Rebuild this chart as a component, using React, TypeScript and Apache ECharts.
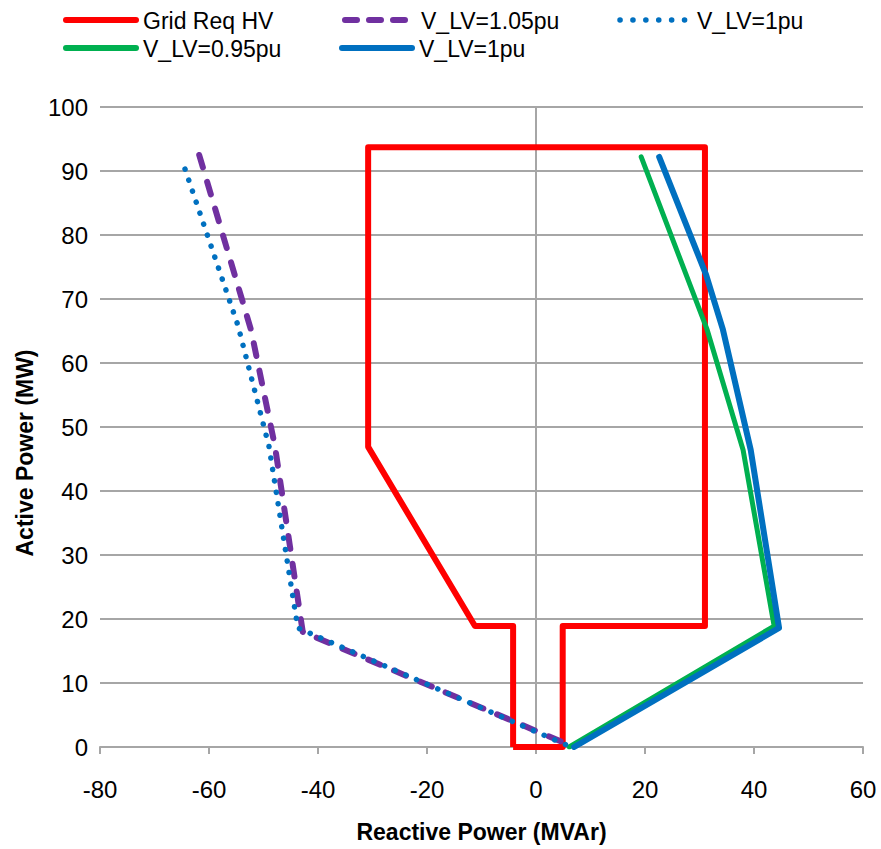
import React, { useEffect, useRef } from "react";
import * as echarts from "echarts";

// Grid requirement polygon (Reactive MVAr, Active MW)
const gridReqQ = [-4.2, -4.2, -11.2, -30.8, -30.8, 31.0, 31.0, 4.9, 4.9, -4.2];
const gridReqP = [0, 18.9, 18.9, 46.9, 93.7, 93.7, 18.9, 18.9, 0, 0];

// V_LV = 1.05 pu (dashed purple)
const v105Q = [-61.8, -52.3, -47.9, -42.8, 6.4];
const v105P = [92.5, 65.2, 47.0, 18.0, 0.2];

// V_LV = 1 pu (dotted blue)
const v100dQ = [-64.4, -54.7, -49.0, -43.7, 5.9];
const v100dP = [90.3, 65.9, 47.0, 18.6, 0.2];

// V_LV = 0.95 pu (green)
const v095Q = [19.3, 31.4, 38.0, 43.7, 6.1];
const v095P = [92.2, 65.2, 46.4, 18.9, 0];

// V_LV = 1 pu (solid blue)
const v100Q = [22.6, 31.2, 34.3, 39.4, 44.6, 7.0];
const v100P = [92.2, 73.8, 65.2, 46.4, 18.6, 0];

const xTicks = { min: -80, max: 60, step: 20 };
const yTicks = { min: 0, max: 100, step: 10 };

const zip = (a: number[], b: number[]) => a.map((v, i) => [v, b[i]]);

const FONT = "'Liberation Sans', Arial, sans-serif";
const FS = 23;
const GRAY = "#A6A6A6";

export default function App() {
  const ref = useRef<HTMLDivElement>(null);
  useEffect(() => {
    if (!ref.current) return;
    const chart = echarts.init(ref.current, undefined, { renderer: "svg" });
    const legendItems = [
      { x: 66, y: 20, w: 70, color: "#FF0000", dash: "solid", width: 6, label: "Grid Req HV", tx: 143 },
      { x: 345, y: 20, w: 60, color: "#7030A0", dash: [12, 12], width: 6, label: "V_LV=1.05pu", tx: 421 },
      { x: 620, y: 20, w: 65, color: "#0070C0", dash: [0.1, 12.8], width: 5.5, label: "V_LV=1pu", tx: 697 },
      { x: 66, y: 48, w: 70, color: "#00B050", dash: "solid", width: 6, label: "V_LV=0.95pu", tx: 143 },
      { x: 342, y: 48, w: 70, color: "#0070C0", dash: "solid", width: 6, label: "V_LV=1pu", tx: 419 },
    ];
    const graphics: any[] = [];
    legendItems.forEach((it) => {
      graphics.push({
        type: "line",
        shape: { x1: it.x, y1: it.y, x2: it.x + it.w, y2: it.y },
        style: { stroke: it.color, lineWidth: it.width, lineDash: it.dash === "solid" ? null : it.dash, lineCap: "round" },
      });
      graphics.push({
        type: "text",
        x: it.tx,
        y: it.y + 1,
        style: { text: it.label, fontFamily: FONT, fontSize: FS, fill: "#000", verticalAlign: "middle", align: "left" },
      });
    });

    chart.setOption({
      animation: false,
      backgroundColor: "#fff",
      grid: { left: 100, right: 18, top: 107, bottom: 102, outerBoundsMode: "none" },
      graphic: graphics,
      xAxis: {
        type: "value",
        min: xTicks.min,
        max: xTicks.max,
        interval: xTicks.step,
        name: "Reactive Power (MVAr)",
        nameLocation: "middle",
        nameGap: 73,
        nameTextStyle: { fontFamily: FONT, fontSize: FS, fontWeight: "bold", color: "#000" },
        axisLine: { onZero: false, lineStyle: { color: GRAY, width: 2 } },
        axisTick: { show: true, length: 7, lineStyle: { color: GRAY, width: 2 } },
        axisLabel: { fontFamily: FONT, fontSize: FS + 1, color: "#000", margin: 30 },
        splitLine: { show: false },
      },
      yAxis: {
        type: "value",
        min: yTicks.min,
        max: yTicks.max,
        interval: yTicks.step,
        name: "Active Power (MW)",
        nameLocation: "middle",
        nameGap: 64,
        nameRotate: 90,
        nameTextStyle: { fontFamily: FONT, fontSize: FS, fontWeight: "bold", color: "#000", padding: [0, 52, 0, 0] },
        axisLine: { show: false },
        axisTick: { show: true, length: 7, lineStyle: { color: GRAY, width: 2 } },
        axisLabel: { fontFamily: FONT, fontSize: FS + 1, color: "#000", margin: 12 },
        splitLine: { show: true, lineStyle: { color: GRAY, width: 2 } },
      },
      series: [
        {
          type: "line",
          name: "zeroAxis",
          data: [[0, yTicks.min], [0, yTicks.max]],
          symbol: "none",
          silent: true,
          z: 1,
          lineStyle: { color: GRAY, width: 2 },
        },
        {
          type: "line",
          name: "Grid Req HV",
          data: zip(gridReqQ, gridReqP),
          symbol: "none",
          z: 3,
          lineStyle: { color: "#FF0000", width: 6, join: "round" },
        },
        {
          type: "line",
          name: "V_LV=1.05pu",
          data: zip(v105Q, v105P),
          symbol: "none",
          z: 4,
          lineStyle: { color: "#7030A0", width: 6, type: [13, 15], cap: "round", join: "round" },
        },
        {
          type: "line",
          name: "V_LV=1pu (dotted)",
          data: zip(v100dQ, v100dP),
          symbol: "none",
          z: 5,
          lineStyle: { color: "#0070C0", width: 5.5, type: [0.1, 11.5], cap: "round", join: "round" },
        },
        {
          type: "line",
          name: "V_LV=0.95pu",
          data: zip(v095Q, v095P),
          symbol: "none",
          z: 4,
          lineStyle: { color: "#00B050", width: 5, cap: "round", join: "round" },
        },
        {
          type: "line",
          name: "V_LV=1pu",
          data: zip(v100Q, v100P),
          symbol: "none",
          z: 5,
          lineStyle: { color: "#0070C0", width: 6, cap: "round", join: "round" },
        },
      ],
    });
    return () => chart.dispose();
  }, []);
  return <div ref={ref} style={{ width: 881, height: 849, position: "absolute", left: 0, top: 0 }} />;
}
